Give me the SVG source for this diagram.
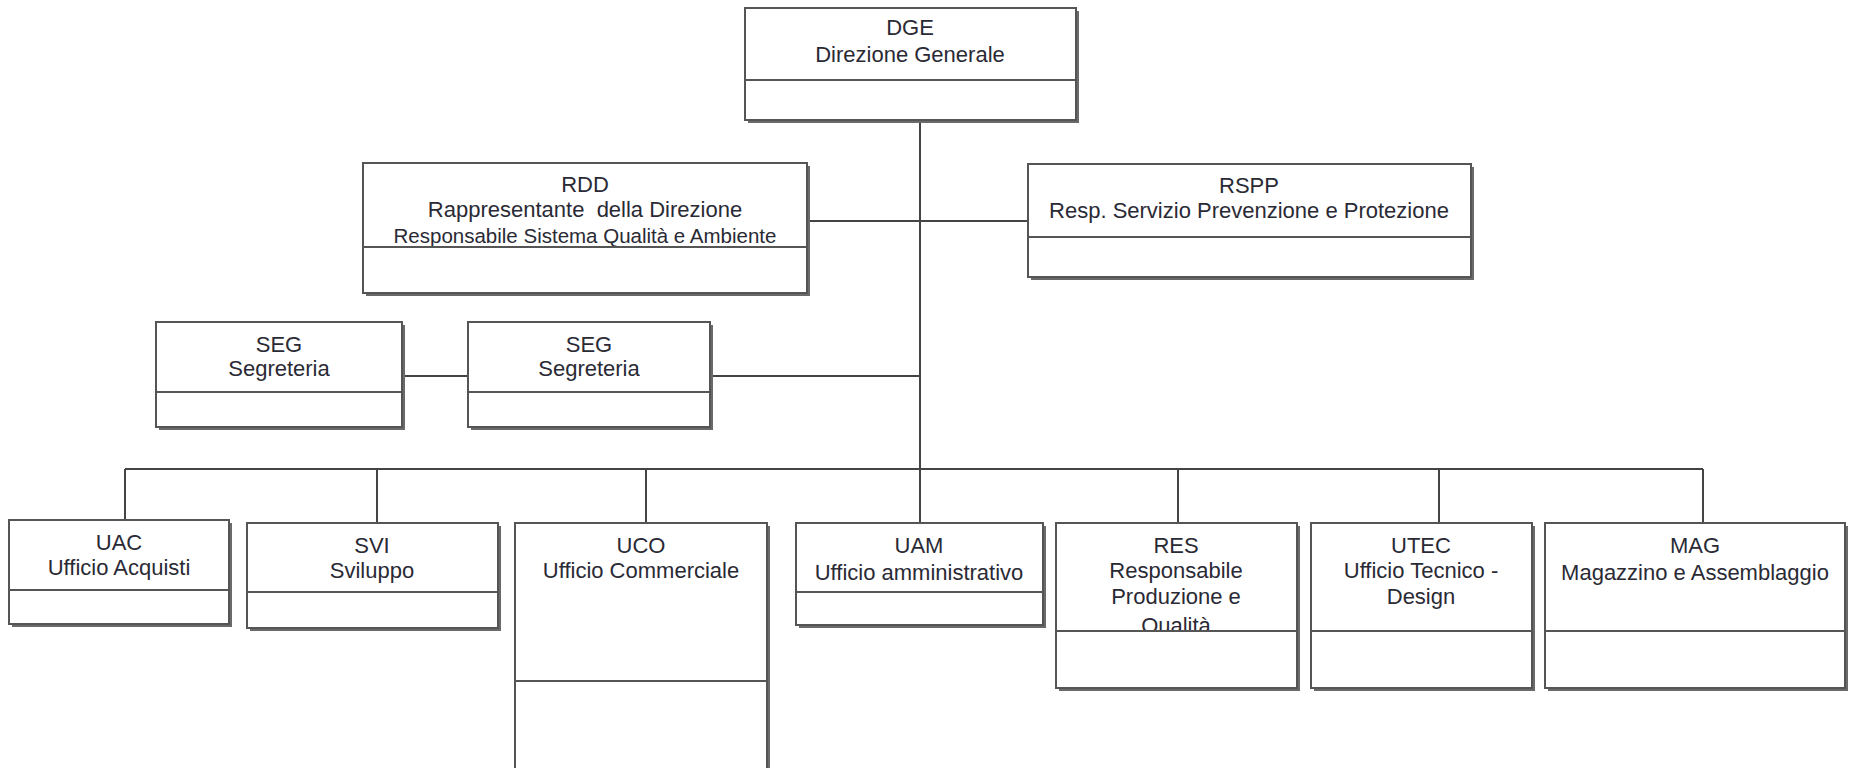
<svg xmlns="http://www.w3.org/2000/svg" width="1851" height="768" viewBox="0 0 1851 768">
<style>
.sh{fill:#6a6a6a}
.bx{fill:#fff;stroke:#555;stroke-width:2}
.dv{stroke:#555;stroke-width:2}
.t{font-family:"Liberation Sans",Arial,sans-serif;font-size:22px;fill:#2a2a35;text-anchor:middle}
.s{font-size:20.5px}
.cn{stroke:#444;stroke-width:2;fill:none}
</style>
<rect width="1851" height="768" fill="#fff"/>
<g id="connectors">
<path class="cn" d="M920 120V469"/>
<path class="cn" d="M807 221H1028"/>
<path class="cn" d="M402 376H468M710 376H920"/>
<path class="cn" d="M125 469H1703"/>
<path class="cn" d="M125 469V520M377 469V523M646 469V523M920 469V523M1178 469V523M1439 469V523M1703 469V523"/>
</g>
<g id="DGE">
<rect class="sh" x="748" y="11" width="331" height="112"/>
<rect class="bx" x="745" y="8" width="331" height="112"/>
<line class="dv" x1="745" y1="80" x2="1076" y2="80"/>
<text class="t" x="910" y="35">DGE</text>
<text class="t" x="910" y="62">Direzione Generale</text>
</g>
<g id="RDD">
<rect class="sh" x="366" y="166" width="444" height="130"/>
<rect class="bx" x="363" y="163" width="444" height="130"/>
<text class="t" x="585" y="192">RDD</text>
<text class="t" x="585" y="217" xml:space="preserve">Rappresentante  della Direzione</text>
<text class="t s" x="585" y="243">Responsabile Sistema Qualità e Ambiente</text>
<line class="dv" x1="363" y1="247" x2="807" y2="247"/>
</g>
<g id="RSPP">
<rect class="sh" x="1031" y="167" width="443" height="113"/>
<rect class="bx" x="1028" y="164" width="443" height="113"/>
<line class="dv" x1="1028" y1="237" x2="1471" y2="237"/>
<text class="t" x="1249" y="193">RSPP</text>
<text class="t" x="1249" y="218">Resp. Servizio Prevenzione e Protezione</text>
</g>
<g id="SEG1">
<rect class="sh" x="159" y="325" width="246" height="105"/>
<rect class="bx" x="156" y="322" width="246" height="105"/>
<line class="dv" x1="156" y1="392" x2="402" y2="392"/>
<text class="t" x="279" y="352">SEG</text>
<text class="t" x="279" y="376">Segreteria</text>
</g>
<g id="SEG2">
<rect class="sh" x="471" y="325" width="242" height="105"/>
<rect class="bx" x="468" y="322" width="242" height="105"/>
<line class="dv" x1="468" y1="392" x2="710" y2="392"/>
<text class="t" x="589" y="352">SEG</text>
<text class="t" x="589" y="376">Segreteria</text>
</g>
<g id="UAC">
<rect class="sh" x="12" y="523" width="220" height="104"/>
<rect class="bx" x="9" y="520" width="220" height="104"/>
<line class="dv" x1="9" y1="590" x2="229" y2="590"/>
<text class="t" x="119" y="550">UAC</text>
<text class="t" x="119" y="575">Ufficio Acquisti</text>
</g>
<g id="SVI">
<rect class="sh" x="250" y="526" width="251" height="105"/>
<rect class="bx" x="247" y="523" width="251" height="105"/>
<line class="dv" x1="247" y1="592" x2="498" y2="592"/>
<text class="t" x="372" y="553">SVI</text>
<text class="t" x="372" y="578">Sviluppo</text>
</g>
<g id="UCO">
<rect class="sh" x="518" y="526" width="252" height="260"/>
<rect class="bx" x="515" y="523" width="252" height="260"/>
<line class="dv" x1="515" y1="681" x2="767" y2="681"/>
<text class="t" x="641" y="553">UCO</text>
<text class="t" x="641" y="578">Ufficio Commerciale</text>
</g>
<g id="UAM">
<rect class="sh" x="799" y="526" width="247" height="102"/>
<rect class="bx" x="796" y="523" width="247" height="102"/>
<line class="dv" x1="796" y1="592" x2="1043" y2="592"/>
<text class="t" x="919" y="553">UAM</text>
<text class="t" x="919" y="580">Ufficio amministrativo</text>
</g>
<g id="RES">
<rect class="sh" x="1059" y="526" width="241" height="165"/>
<rect class="bx" x="1056" y="523" width="241" height="165"/>
<text class="t" x="1176" y="553">RES</text>
<text class="t" x="1176" y="578">Responsabile</text>
<text class="t" x="1176" y="604">Produzione e</text>
<text class="t" x="1176" y="633">Qualità</text>
<rect class="bx" x="1056" y="631" width="241" height="57"/>
</g>
<g id="UTEC">
<rect class="sh" x="1314" y="526" width="221" height="165"/>
<rect class="bx" x="1311" y="523" width="221" height="165"/>
<line class="dv" x1="1311" y1="631" x2="1532" y2="631"/>
<text class="t" x="1421" y="553">UTEC</text>
<text class="t" x="1421" y="578">Ufficio Tecnico -</text>
<text class="t" x="1421" y="604">Design</text>
</g>
<g id="MAG">
<rect class="sh" x="1548" y="526" width="300" height="165"/>
<rect class="bx" x="1545" y="523" width="300" height="165"/>
<line class="dv" x1="1545" y1="631" x2="1845" y2="631"/>
<text class="t" x="1695" y="553">MAG</text>
<text class="t" x="1695" y="580">Magazzino e Assemblaggio</text>
</g>
</svg>
